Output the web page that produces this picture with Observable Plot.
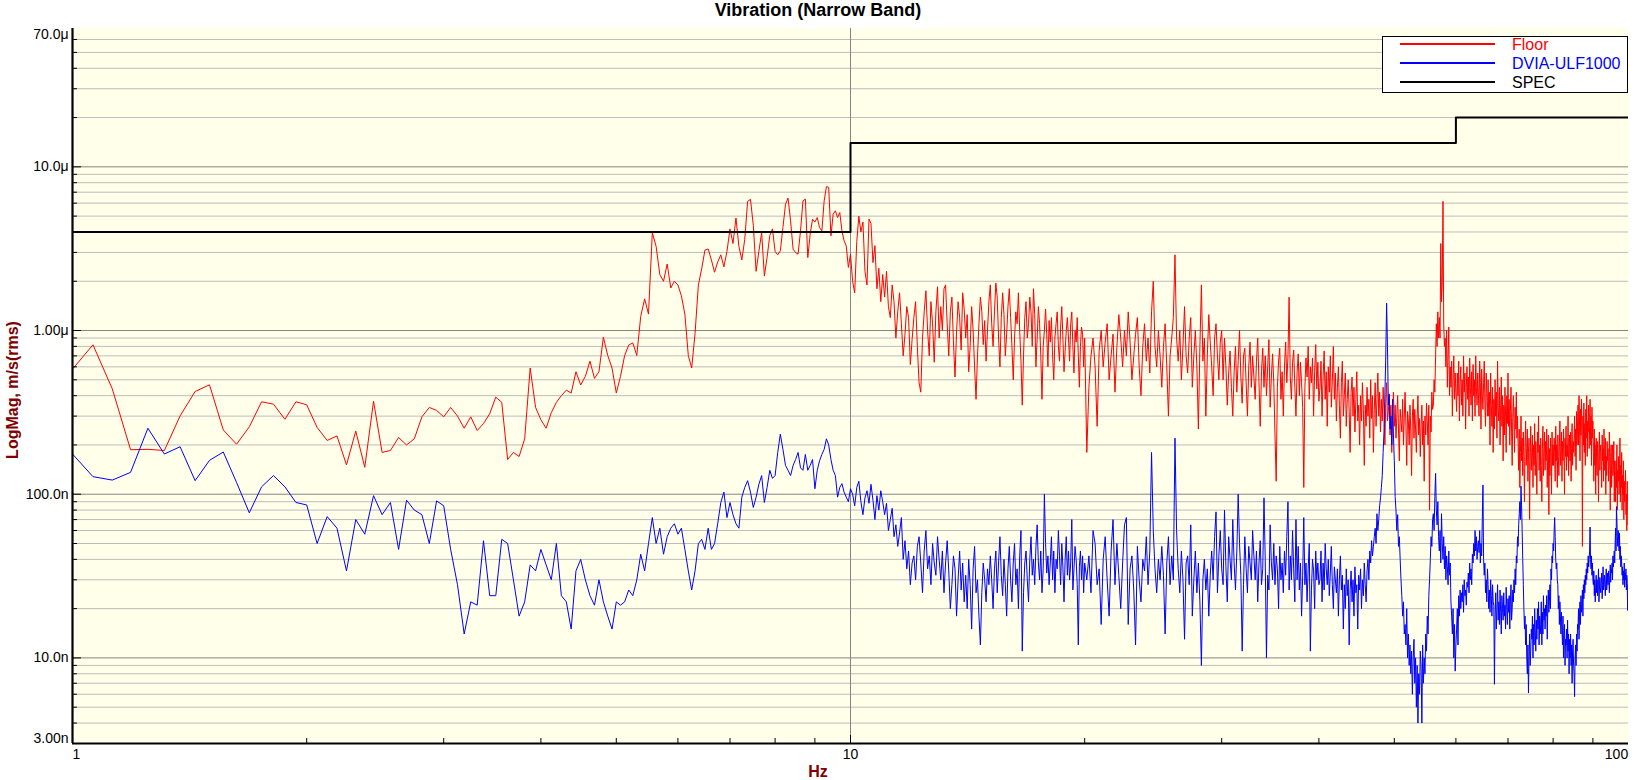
<!DOCTYPE html>
<html>
<head>
<meta charset="utf-8">
<script src="https://cdn.jsdelivr.net/npm/d3@7"></script>
<script src="https://cdn.jsdelivr.net/npm/@observablehq/plot@0.6"></script>
<style>
  html, body { margin: 0; padding: 0; background: #ffffff; }
  svg { display: block; }
</style>
</head>
<body>
<div id="chart"></div>
<script>
// ---- DATA (velocity in nm/s, narrow band FFT bins) ----
// Floor, 1–10 Hz, bins every 0.0625 Hz
const floor1to10 = [581,818,440,187,188,185,301,424,466,247,202,258,367,355,287,367,352,256,213,227,151,243,146,370,
180,185,222,200,218,297,339,325,297,339,300,253,297,245,270,310,392,364,163,180,170,218,590,339,285,253,315,364,400,432,415,560,465,525,650,510,560,910,704,590,415,525,704,815,840,704,1220,1560,1260,
3960,3270,2200,2000,2550,1820,2000,1900,1630,1260,704,590,960,1900,2380,3100,3150,2700,2270,2620,2900,2450,3040,4180,3400,4870,3270,2700,3600,6150,6330,4400,2300,3050,3960,2150,2800,3800,4180,
3040,2900,3070,4260,5910,6440,4680,3140,2990,2930,4060,6200,6350,2790,3880,4790,4600,4900,4260,4060,6200,7580,7480,3790,5140,5390,4900,5260,4060,3530,3290,2430,2930];
// Floor, 10.0625–20 Hz, 0.0625 Hz
const floor10to20 = [2000,1700,3500,5000,4000,4600,2300,1900,
4800,4500,2600,3300,1800,2400,1500,2200,
1600,2300,1400,1200,1900,1500,900,1300,1700,1100,700,950,1400,1200,620,880,
1200,1500,800,480,420,900,1300,1750,1000,700,1500,1100,640,1300,1850,900,
1400,1000,1800,1900,1100,700,1300,1600,850,520,980,1500,1200,760,1700,1350,
900,1250,560,800,1400,1000,600,380,700,1100,1600,1300,820,1150,650,1000,
1500,1900,1100,800,1300,1950,1600,900,600,1200,1700,1250,700,950,1400,1800,
1200,800,500,900,1300,1100,1700,1000,650,350,700,1200,1500,900,1100,1600,
1300,800,1800,1250,600,900,1400,1100,700,380,800,1000,1350,950,600,1150,
850,1200,700,500,900,1100,1300,800,650,1050,1400,900,560,750,1000,1200,
900,650,1100,1300,800,550,1000,850,1200,700,450,800,1050,950,600,900];
// Floor, 20.125–40 Hz, 0.125 Hz
const floor20to40 = [180,450,700,900,600,260,750,1000,
600,850,1100,500,700,950,420,800,
1250,900,600,1000,700,1300,850,500,
700,950,1200,600,400,800,1100,650,
900,550,1300,2000,800,600,1000,700,
450,800,1100,600,300,700,900,1200,
2900,900,650,1000,500,800,1400,700,
550,900,1200,450,700,1000,600,250,
800,1900,650,900,300,700,1250,850,
600,400,900,1100,700,500,850,1000,
500,900,600,350,550,750,450,300,
560,800,420,650,1000,520,360,700,
780,480,300,600,850,450,700,520,
380,650,900,480,260,560,780,450,
700,400,600,880,340,520,720,480,
230,120,450,650,780,380,560,300,
600,850,480,700,1600,520,380,640,
760,450,300,560,720,400,640,480,
340,110,450,680,520,800,380,600,
480,680,300,560,820,440,640,370];
// Floor, 40.125–60 Hz, 0.125 Hz
const floor40to60 = [450,650,300,520,750,380,560,260,
600,420,700,340,500,800,380,550,
280,450,600,350,220,480,650,300,
400,550,260,380,500,320,180,420,
520,300,450,240,380,560,280,350,
200,400,280,480,330,150,350,260,
450,300,380,220,500,290,400,180,
330,480,260,380,550,300,420,240,
380,280,450,320,200,360,480,280,
320,400,230,350,180,300,420,260,
350,220,300,400,250,160,330,280,
240,380,200,300,420,260,150,320,
280,200,350,240,130,300,380,220,
330,250,180,300,400,230,290,170,
260,350,200,280,120,300,230,360,
280,200,350,80,300,240,420,330,
350,500,420,700,1100,800,1300,900,
1200,900,3400,1500,2000,6150,1100,800,
900,600,1000,450,700,1050,400,600,
450,650,300,500,700,380,550,420];
// Floor, 60.125–80 Hz, 0.125 Hz
const floor60to80 = [320,550,400,650,280,480,600,350,
500,300,700,420,550,250,450,600,
380,520,300,680,450,350,560,280,
620,400,500,300,700,450,350,550,
420,300,650,480,250,580,400,330,
480,650,350,260,550,420,300,500,
300,420,200,550,350,260,450,180,
380,250,500,300,420,220,650,340,
280,450,200,350,520,260,400,160,
350,230,450,300,180,400,270,550,
260,380,200,320,450,240,150,300,
400,280,180,340,250,420,220,300,
200,140,250,110,180,300,160,220,
130,240,170,90,200,280,150,190,
250,120,180,220,70,160,260,140,
180,230,110,200,150,270,130,210,
160,100,240,180,300,140,200,120,
220,150,90,190,260,130,170,240,
140,210,160,250,110,180,230,75,
190,130,220,170,100,240,150,200];
// Floor, 80.125–100 Hz, 0.125 Hz
const floor80to100 = [150,220,180,120,260,160,200,110,
230,170,130,200,280,150,190,240,
120,210,160,250,180,100,220,170,
260,140,200,170,300,130,190,230,
160,240,120,190,270,150,210,180,
220,300,170,250,140,320,200,260,
350,200,400,280,160,330,230,380,
250,48,300,200,360,180,270,150,
330,220,400,170,280,240,350,190,
260,380,200,300,150,340,220,280,
180,120,250,150,200,100,220,160,
130,210,170,90,190,240,140,180,
200,150,110,230,160,190,120,250,
140,180,220,100,170,130,210,160,
190,120,160,240,140,80,180,200,
110,170,200,130,150,210,90,160,
130,90,160,110,200,80,140,120,
170,100,130,220,90,150,110,180,
80,130,100,160,70,120,90,110,
140,75,100,60,120,85,65,70];

// DVIA-ULF1000, 1–10 Hz, 0.0625 Hz
const dvia1to10 = [176,128,122,136,253,176,195,121,161,181,118,
77,111,130,111,89,86,50,73,62,34,70,57,98,75,89,46,92,80,75,50,91,85,46,28,14,22,21,52,24,24,53,50,30,18,22,37,34,46,37,30,50,24,22,15,34,40,30,24,21,30,22,18,15,22,21,22,26,24,30,43,34,50,
72,50,62,43,55,62,66,57,62,46,34,26,34,50,53,46,62,46,50,66,89,103,72,89,75,66,62,96,110,121,103,83,96,115,130,89,110,140,125,130,180,233,188,150,140,130,150,163,180,145,140,175,140,150,163,108,140,160,175,188,218,200,163,140,130,96,110,116,103,96,90,108];
// DVIA-ULF1000, 10.0625–20 Hz, 0.0625 Hz
const dvia10to20 = [100,85,110,120,90,75,95,105,88,115,92,70,98,80,105,90,
75,88,60,70,82,55,65,48,58,72,40,52,35,45,28,38,
42,30,48,55,38,25,45,60,35,42,28,50,38,32,55,40,
30,45,25,38,52,34,20,28,42,35,18,30,45,26,38,22,
32,20,40,28,15,35,48,25,30,18,12,25,38,30,22,35,
28,42,30,20,35,45,25,38,55,32,24,40,28,18,35,48,
30,22,38,50,28,35,20,42,60,11,25,38,45,30,22,40,
55,32,40,28,48,65,38,30,45,25,35,100,50,33,42,28,
38,55,30,45,25,40,35,60,42,28,50,36,22,40,55,32,
45,30,38,70,26,35,48,40,28,12,36,45,30,42,25,38];
// DVIA-ULF1000, 20.125–40 Hz, 0.125 Hz
const dvia20to40 = [30,42,25,60,50,28,35,16,
40,55,30,18,45,70,28,50,
32,20,38,65,72,16,35,42,
26,12,48,30,22,40,34,55,
28,45,180,60,35,25,40,30,
48,32,14,38,55,28,42,30,
220,60,35,25,45,30,13,38,
42,28,65,18,30,45,25,38,
22,9,30,40,26,35,18,32,
45,30,55,78,25,42,60,35,
28,80,36,22,55,40,30,70,
38,26,45,100,50,32,11,28,
55,35,25,48,38,30,60,42,
30,45,22,38,52,28,35,95,
40,10,32,26,65,38,30,50,
28,42,35,20,48,30,38,25,
45,32,55,90,26,42,30,60,
35,22,70,30,48,26,38,18,
32,72,28,38,22,35,50,11,
26,40,34,20,45,30,38,28];
// DVIA-ULF1000, 40.125–60 Hz, 0.125 Hz
const dvia40to60 = [30,45,22,38,26,50,35,28,
40,24,33,48,28,20,36,30,
25,35,18,30,42,26,32,15,
28,20,35,24,30,12,26,34,
22,30,18,36,25,28,15,32,
26,35,20,30,24,38,28,22,
34,40,30,45,38,52,42,48,
55,62,50,76,60,70,85,95,
110,130,180,240,400,690,1470,800,
350,410,250,300,200,380,230,160,
97,80,60,75,48,55,40,30,
24,18,22,14,16,12,20,10,
14,9,12,8,11,6,10,13,
7,10,5,9,4,8,6,11,
9,4,12,7,10,8,14,11,
18,14,24,30,40,55,48,70,
76,60,97,134,80,65,90,55,
45,60,38,76,50,40,55,35,
48,30,42,36,28,45,32,38,
22,18,14,20,10,16,8.3,12];
// DVIA-ULF1000, 60.125–80 Hz, 0.125 Hz
const dvia60to80 = [15,20,12,24,18,26,20,25,
22,28,19,30,24,26,21,29,
27,33,25,38,30,35,28,43,
38,50,42,60,45,55,40,48,
52,44,60,38,50,42,70,114,
40,32,38,25,30,22,35,28,
20,26,19,30,24,18,28,22,
21,6.9,18,25,15,20,28,17,
22,16,26,19,14,24,20,17,
25,18,21,15,27,20,16,23,
19,24,15,22,28,17,20,26,
22,30,25,35,28,42,38,55,
48,65,76,90,70,112,85,60,
40,28,20,15,18,12,16,10,
8,12,6.1,10,14,9,11,15,
13,18,10,16,12,20,15,11,
17,13,20,15,22,12,18,14,
16,22,12,19,14,24,17,20,
15,21,18,24,13,20,26,19,
22,28,20,35,30,42,38,50];
// DVIA-ULF1000, 80.125–100 Hz, 0.125 Hz
const dvia80to100 = [45,60,72,55,40,35,38,30,
28,20,24,16,22,18,14,19,
15,12,18,10,14,16,9,13,
12,15,10,17,11,14,8,13,
10,14,9,12,7,11,13,9,
8,5.8,10,12,9,14,11,16,
15,20,13,18,22,16,24,19,
21,26,18,28,23,30,25,32,
28,35,30,38,33,42,36,40,
45,63,40,35,42,32,38,30,
28,34,24,30,22,27,32,25,
30,24,28,35,22,26,31,27,
25,29,33,23,28,36,26,30,
32,27,24,30,35,26,29,33,
28,34,30,25,32,37,29,35,
33,38,30,42,36,40,45,38,
50,62,45,84,70,55,48,60,
52,45,58,40,48,36,42,38,
32,36,28,34,30,38,27,33,
30,35,26,32,29,19.5,28,28];

// SPEC limit (µm/s) – step changes at these frequencies
const specFreq  = [1, 10, 60, 100];
const specLevel = [4, 14, 20, 20];

// Axis ticks
const yTickValues = [3e-9, 1e-8, 1e-7, 1e-6, 1e-5, 7e-5];
const yTickLabels = ["3.00n", "10.0n", "100.0n", "1.00\u03bc", "10.0\u03bc", "70.0\u03bc"];
const yDecades = [1e-8, 1e-7, 1e-6, 1e-5];
const yMultipliers = [2, 3, 4, 5, 6, 7, 8, 9];
const xTickValues = [1, 10, 100];
const xTickLabels = ["1", "10", "100"];
const xMinorTicks = [2, 3, 4, 5, 6, 7, 8, 9, 20, 30, 40, 50, 60, 70, 80, 90];

// ---- build tables ----
function bins(values, start, step) {
  return values.map((v, i) => ({f: start + i * step, v: v * 1e-9}));
}
const floor = [
  ...bins(floor1to10, 1, 0.0625), ...bins(floor10to20, 10.0625, 0.0625),
  ...bins(floor20to40, 20.125, 0.125), ...bins(floor40to60, 40.125, 0.125),
  ...bins(floor60to80, 60.125, 0.125), ...bins(floor80to100, 80.125, 0.125)
];
const dvia = [
  ...bins(dvia1to10, 1, 0.0625), ...bins(dvia10to20, 10.0625, 0.0625),
  ...bins(dvia20to40, 20.125, 0.125), ...bins(dvia40to60, 40.125, 0.125),
  ...bins(dvia60to80, 60.125, 0.125), ...bins(dvia80to100, 80.125, 0.125)
];
const spec = specFreq.map((f, i) => ({f, v: specLevel[i] * 1e-6}));

const yMinor = [];
for (const d of [1e-9, ...yDecades]) for (const m of yMultipliers) {
  const v = d * m;
  if (v > 3.5e-9 && v < 6.5e-5) yMinor.push(v);
}
const yTicks = yTickValues.map((v, i) => ({v, label: yTickLabels[i], shift: i === 0 ? -5 : i === yTickValues.length - 1 ? 6 : 0}));
const xTicks = xTickValues.map((v, i) => ({v, label: xTickLabels[i], shift: i === 0 ? 4 : i === xTickValues.length - 1 ? -12 : 0}));

const W = 1635, H = 780, ML = 72, MR = 7, MT = 28, MB = 37;
const FW = W - ML - MR, FH = H - MT - MB;
const font = "'Liberation Sans', Arial, Helvetica, sans-serif";

const chart = Plot.plot({
  width: W, height: H,
  marginLeft: ML, marginRight: MR, marginTop: MT, marginBottom: MB,
  style: {fontFamily: font, fontSize: "14px", background: "#ffffff", color: "#000000", overflow: "visible"},
  x: {type: "log", domain: [1, 100], label: null, axis: null},
  y: {type: "log", domain: [3e-9, 7e-5], label: null, axis: null},
  marks: [
    Plot.frame({fill: "#ffffea", stroke: null}),
    Plot.ruleY(yMinor, {stroke: "#bcbcbc", strokeWidth: 1}),
    Plot.ruleY(yDecades, {stroke: "#858585", strokeWidth: 1}),
    Plot.ruleX([10], {stroke: "#858585", strokeWidth: 1}),
    Plot.line(floor, {x: "f", y: "v", stroke: "#ff0000", strokeWidth: 1, clip: true}),
    Plot.line(dvia, {x: "f", y: "v", stroke: "#0000ff", strokeWidth: 1, clip: true}),
    Plot.line(spec, {x: "f", y: "v", stroke: "#000000", strokeWidth: 2, curve: "step-after", clip: true}),
    // inside tick marks
    Plot.ruleY(yMinor, {stroke: "#000000", insetRight: FW - 5}),
    Plot.ruleY(yDecades, {stroke: "#000000", insetRight: FW - 9}),
    Plot.ruleX(xMinorTicks, {stroke: "#000000", insetTop: FH - 5}),
    Plot.ruleX([10], {stroke: "#000000", insetTop: FH - 8}),
    // axis lines
    Plot.ruleX([1], {stroke: "#000000", strokeWidth: 2.2}),
    Plot.ruleY([3e-9], {stroke: "#000000", strokeWidth: 2.2}),
    // tick labels
    ...yTicks.map(t => Plot.text([t], {y: "v", text: "label", frameAnchor: "left", textAnchor: "end",
      dx: -4, dy: t.shift, fontSize: 14, fill: "#000000"})),
    ...xTicks.map(t => Plot.text([t], {x: "v", text: "label", frameAnchor: "bottom", lineAnchor: "top",
      dx: t.shift, dy: 6, fontSize: 14, fill: "#000000"}))
  ]
});

const svg = d3.select(chart);
// Title
svg.append("text").attr("x", 818).attr("y", 16).attr("text-anchor", "middle")
  .attr("font-family", font).attr("font-size", 18).attr("font-weight", "bold").attr("fill", "#000")
  .text("Vibration (Narrow Band)");
// X label
svg.append("text").attr("x", 818).attr("y", 777).attr("text-anchor", "middle")
  .attr("font-family", font).attr("font-size", 16).attr("font-weight", "bold").attr("fill", "#800000")
  .text("Hz");
// Y label
svg.append("text").attr("transform", "translate(18,390) rotate(-90)").attr("text-anchor", "middle")
  .attr("font-family", font).attr("font-size", 16).attr("font-weight", "bold").attr("fill", "#800000")
  .text("LogMag, m/s(rms)");
// Legend
const legendItems = [
  {name: "Floor", color: "#ff0000"},
  {name: "DVIA-ULF1000", color: "#0000ff"},
  {name: "SPEC", color: "#000000"}
];
const lg = svg.append("g");
lg.append("rect").attr("x", 1382.5).attr("y", 36.5).attr("width", 245).attr("height", 56)
  .attr("fill", "#ffffff").attr("stroke", "#000000").attr("stroke-width", 1);
legendItems.forEach((d, i) => {
  const y = 44 + i * 19;
  lg.append("line").attr("x1", 1400).attr("x2", 1495).attr("y1", y).attr("y2", y)
    .attr("stroke", d.color).attr("stroke-width", 2);
  lg.append("text").attr("x", 1512).attr("y", y).attr("dy", "0.36em").attr("text-anchor", "start")
    .attr("font-family", font).attr("font-size", 16).attr("fill", d.color).text(d.name);
});

document.getElementById("chart").appendChild(chart);
</script>
</body>
</html>
